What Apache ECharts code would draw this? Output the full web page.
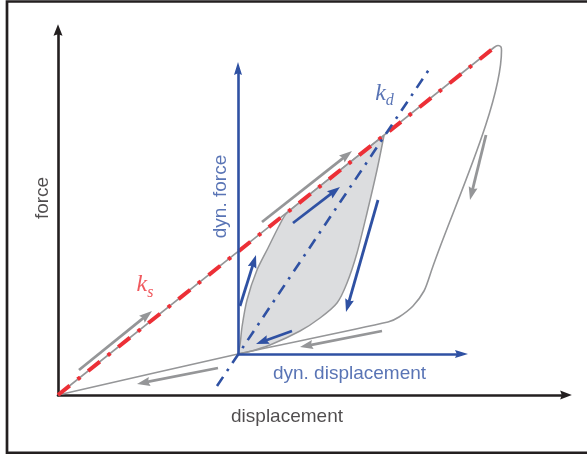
<!DOCTYPE html>
<html>
<head>
<meta charset="utf-8">
<script src="https://cdn.jsdelivr.net/npm/echarts@6/dist/echarts.min.js"></script>
<style>
  html, body { margin: 0; padding: 0; background: #fff; }
  #chart { width: 587px; height: 454px; }
</style>
</head>
<body>
<div id="chart"></div>
<script>
// Static vs. dynamic stiffness of a hysteretic force–displacement loop.
// Both axes use the same unit scale; the origin sits on the static axes.

// static secant stiffness k_s and dynamic stiffness k_d
const ksLine = [[0, 0], [437, 348]];
const kdLine = [[159, 9], [374, 330]];

// outer loading / unloading path
const outerLoop = [
  [0, 0], [436, 347.5], [440, 349.5], [443, 348], [443.5, 344.5],
  [372, 120], [366, 104], [355, 89], [341, 78], [330, 73],
  [180, 41], [0, 0]
];

// inner (dynamic) loop: rising branch and falling branch
const innerRise = [
  [180, 41], [182, 50], [184, 68], [189, 95], [199, 125],
  [210, 147], [221, 169], [229, 182], [326, 259.5]
];
const innerFall = [
  [326, 259.5], [319, 225], [309, 182], [299, 142], [289, 112],
  [279, 92], [262, 77], [242, 64], [212, 50], [190, 43], [180, 41]
];

// dynamic axes, placed at the mean operating point
const dynForceAxis = [[180, 41], [180, 333]];
const dynDispAxis = [[180, 41], [410, 41]];

// direction arrows (tail → tip)
const grayArrows = [
  [[21, 25], [94, 84]],
  [[204, 173], [294, 244]],
  [[428, 260], [412, 195]],
  [[324, 64], [242, 48]],
  [[160, 27], [79, 11]]
];
const blueArrows = [
  [[182, 89], [198, 140]],
  [[235, 172], [282, 208]],
  [[320, 195], [288, 83]],
  [[234, 64], [198, 51]]
];

// text labels: [x, y, text]
const axisTexts = [
  [-15.5, 197, 'force'],
  [229, -21.5, 'displacement']
];
const dynTexts = [
  [163, 198.5, 'dyn. force'],
  [291.5, 21.5, 'dyn. displacement']
];
const stiffTexts = [
  [87, 110, 's'],
  [326.5, 301.5, 'd']
];

const INK = '#231f20';
const BLUE = '#2f51a3';
const RED = '#ec2f36';
const GRAY = '#959698';
const FILL = '#dcdddf';
const HEAD = 'path://M5,0 L10,13 L5,11.2 L0,13 Z';
const SANS = '"Liberation Sans", Arial, sans-serif';
const SERIF = '"Liberation Serif", "Times New Roman", serif';

// pull the line end back so the arrow head tip lands on the given point
function arrowItem(seg, headLen) {
  const [[x1, y1], [x2, y2]] = seg;
  const dx = x2 - x1, dy = y2 - y1, len = Math.hypot(dx, dy);
  return { coords: [[x1, y1], [x2 - dx / len * headLen / 2, y2 - dy / len * headLen / 2]] };
}

function arrowSeries(segs, color, width, size, z) {
  return {
    type: 'lines', coordinateSystem: 'cartesian2d', z: z, silent: true,
    symbol: ['none', HEAD], symbolSize: [0, size],
    lineStyle: { color: color, width: width, opacity: 1, curveness: 0 },
    data: segs.map(s => arrowItem(s, size[1]))
  };
}

function pathSeries(points, color, width, type, z) {
  return {
    type: 'line', data: points, z: z, silent: true, symbol: 'none', smooth: 0.25,
    lineStyle: { color: color, width: width, type: type },
    emphasis: { disabled: true }
  };
}

const chart = echarts.init(document.getElementById('chart'), null, { renderer: 'canvas' });

chart.setOption({
  animation: false,
  backgroundColor: '#fff',
  grid: { left: 58, right: 21, top: 30, bottom: 59 },
  xAxis: {
    type: 'value', min: 0, max: 508,
    axisLine: { show: true, onZero: false, symbol: ['none', HEAD], symbolSize: [9, 13],
      lineStyle: { color: INK, width: 2.6 } },
    axisTick: { show: false }, axisLabel: { show: false }, splitLine: { show: false }
  },
  yAxis: {
    type: 'value', min: 0, max: 365,
    axisLine: { show: true, onZero: false, symbol: ['none', HEAD], symbolSize: [9, 13],
      lineStyle: { color: INK, width: 2.6 } },
    axisTick: { show: false }, axisLabel: { show: false }, splitLine: { show: false }
  },
  graphic: [{
    type: 'polyline', silent: true,
    shape: { points: [[600, 1.5], [7, 1.5], [7, 452.8], [600, 452.8]] },
    style: { stroke: INK, lineWidth: 2.7, fill: null }
  }],
  series: [
    {
      type: 'custom', coordinateSystem: 'cartesian2d', z: 1, silent: true,
      data: [[180, 41]],
      renderItem: (params, api) => ({
        type: 'polygon',
        shape: { points: innerRise.concat(innerFall.slice(1)).map(p => api.coord(p)) },
        style: { fill: FILL }
      })
    },
    pathSeries(innerRise, GRAY, 1.5, 'solid', 2),
    pathSeries(innerFall, GRAY, 1.5, 'solid', 2),
    pathSeries(outerLoop, GRAY, 1.6, 'solid', 2),
    {
      type: 'line', data: ksLine, z: 3, silent: true, symbol: 'none',
      lineStyle: { color: RED, width: 4, type: [15, 10, 3.5, 10], cap: 'butt' }
    },
    {
      type: 'line', data: kdLine, z: 4, silent: true, symbol: 'none',
      lineStyle: { color: BLUE, width: 2.6, type: [11, 7, 2.6, 7] }
    },
    arrowSeries(grayArrows, GRAY, 2.8, [9, 13], 5),
    arrowSeries(blueArrows, BLUE, 2.8, [9, 13], 5),
    arrowSeries([dynForceAxis, dynDispAxis], BLUE, 2.6, [8, 13], 6),
    {
      type: 'scatter', z: 7, clip: false, silent: true, symbolSize: 0,
      data: [
        { value: axisTexts[0].slice(0, 2), name: axisTexts[0][2],
          label: { rotate: 90, color: INK } },
        { value: axisTexts[1].slice(0, 2), name: axisTexts[1][2],
          label: { color: INK } },
        { value: dynTexts[0].slice(0, 2), name: dynTexts[0][2],
          label: { rotate: 90, color: BLUE } },
        { value: dynTexts[1].slice(0, 2), name: dynTexts[1][2],
          label: { color: BLUE } },
        { value: stiffTexts[0].slice(0, 2), name: stiffTexts[0][2],
          label: { formatter: '{k|k}{sub|' + stiffTexts[0][2] + '}',
            rich: { k: { color: RED }, sub: { color: RED } } } },
        { value: stiffTexts[1].slice(0, 2), name: stiffTexts[1][2],
          label: { formatter: '{k|k}{sub|' + stiffTexts[1][2] + '}',
            rich: { k: { color: BLUE }, sub: { color: BLUE } } } }
      ],
      label: {
        show: true, position: 'inside', formatter: '{b}',
        fontFamily: SANS, fontSize: 19,
        rich: {
          k: { fontFamily: SERIF, fontStyle: 'italic', fontSize: 24, lineHeight: 24 },
          sub: { fontFamily: SERIF, fontStyle: 'italic', fontSize: 16, lineHeight: 16,
            padding: [15, 0, 0, 0] }
        }
      },
      emphasis: { disabled: true }
    }
  ]
});
</script>
</body>
</html>
